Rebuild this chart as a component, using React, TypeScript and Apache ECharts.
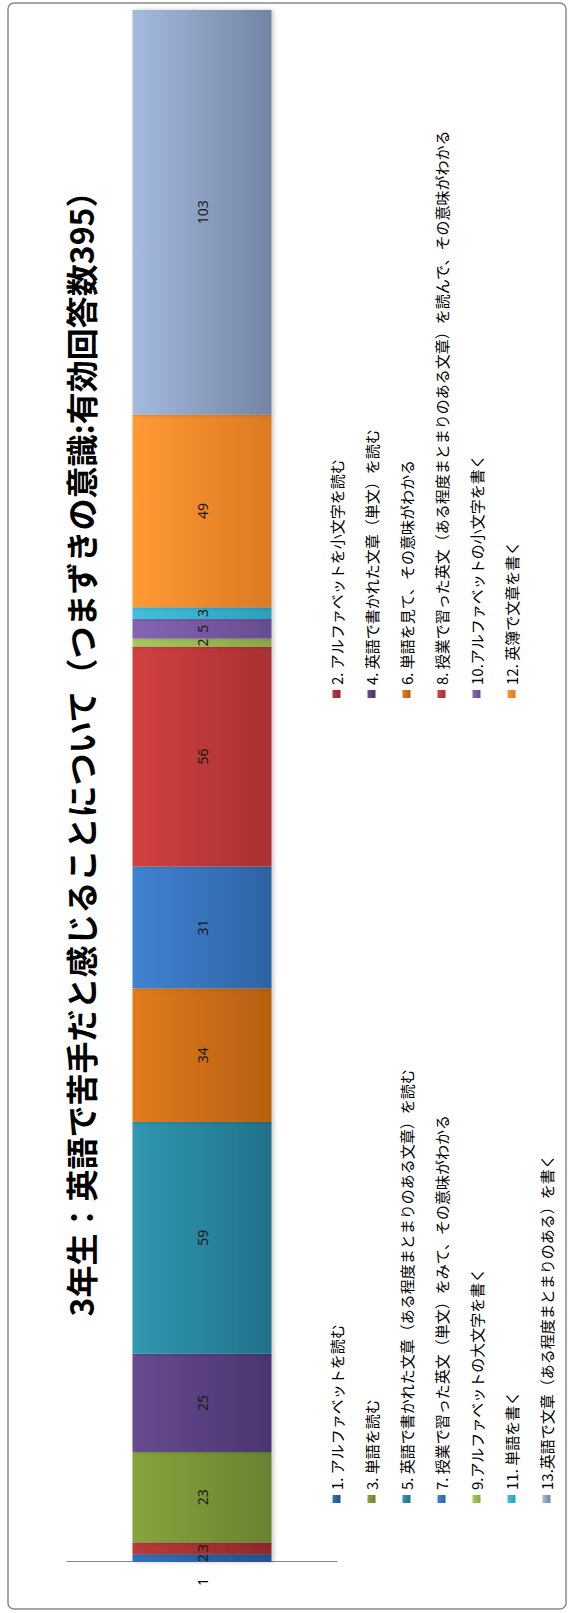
import React, { useEffect, useRef } from "react";
import * as echarts from "echarts";

const titleText = "3年生：英語で苦手だと感じることについて（つまずきの意識:有効回答数395）";
const categories = ["1"];
const seriesNames = [
  "1. アルファベットを読む",
  "2. アルファベットを小文字を読む",
  "3. 単語を読む",
  "4. 英語で書かれた文章（単文）を読む",
  "5. 英語で書かれた文章（ある程度まとまりのある文章）を読む",
  "6. 単語を見て、その意味がわかる",
  "7. 授業で習った英文（単文）をみて、その意味がわかる",
  "8. 授業で習った英文（ある程度まとまりのある文章）を読んで、その意味がわかる",
  "9.アルファベットの大文字を書く",
  "10.アルファベットの小文字を書く",
  "11. 単語を書く",
  "12. 英簿で文章を書く",
  "13.英語で文章（ある程度まとまりのある）を書く",
];
const seriesValues = [2, 3, 23, 25, 59, 34, 31, 56, 2, 5, 3, 49, 103];
const totalAnswers = 395;

const colorsLight = [
  "#3470B8", "#BA3B38", "#86A43E", "#674B8F", "#3098B0", "#E27B1F",
  "#4183D2", "#D24141", "#A8C95C", "#8664B2", "#40C0DD", "#FF9A35", "#A4BADF",
];
const colorsDark = [
  "#24528C", "#8E2A28", "#68832F", "#4A356E", "#22718A", "#B65F10",
  "#2E63A5", "#A83030", "#88A944", "#684C90", "#2C9FBC", "#DC7922", "#7384A3",
];

const W = 1613;
const H = 569;

export default function App() {
  const ref = useRef<HTMLDivElement>(null);
  useEffect(() => {
    if (!ref.current) return;
    const chart = echarts.init(ref.current, undefined, { renderer: "svg" });
    const series = seriesNames.map((name, i) => ({
      name,
      type: "bar",
      stack: "total",
      barWidth: "51.5%",
      data: [seriesValues[i]],
      itemStyle: {
        color: new echarts.graphic.LinearGradient(0, 0, 0, 1, [
          { offset: 0, color: colorsLight[i] },
          { offset: 1, color: colorsDark[i] },
        ]),
        shadowColor: "rgba(0,0,0,0.22)",
        shadowBlur: 4,
        shadowOffsetY: 2,
      },
      label: {
        show: true,
        position: "inside",
        color: "#1a1a1a",
        fontSize: 14,
        fontFamily: "Noto Sans",
      },
    }));
    const legendCommon = {
      orient: "vertical",
      top: 324,
      itemGap: 20,
      itemWidth: 8,
      itemHeight: 8,
      icon: "rect",
      selectedMode: false,
      textStyle: {
        fontSize: 15,
        lineHeight: 15,
        color: "#000",
        fontFamily: "Noto Sans CJK JP",
      },
    };
    chart.setOption({
      animation: false,
      backgroundColor: "#ffffff",
      grid: { left: 51, right: 10, top: 67, bottom: 232, containLabel: false },
      xAxis: {
        type: "value",
        min: 0,
        max: totalAnswers,
        show: false,
      },
      yAxis: {
        type: "category",
        data: categories,
        axisLine: { show: true, lineStyle: { color: "#868686", width: 1 } },
        axisTick: { show: false },
        axisLabel: { fontSize: 14, color: "#000", margin: 16, fontFamily: "Noto Sans" },
        splitLine: { show: false },
      },
      legend: [
        { ...legendCommon, left: 105, data: seriesNames.filter((_, i) => i % 2 === 0) },
        { ...legendCommon, left: 910, data: seriesNames.filter((_, i) => i % 2 === 1) },
      ],
      graphic: [
        {
          type: "rect",
          shape: { x: 4, y: 8, width: 1606, height: 558, r: 6 },
          style: { fill: "none", stroke: "#8a8a8a", lineWidth: 1.5 },
          silent: true,
          z: -1,
        },
        {
          type: "text",
          x: 867,
          y: 80,
          style: {
            text: titleText,
            align: "center",
            verticalAlign: "middle",
            fontSize: 32,
            fontWeight: "bold",
            fontFamily: "Noto Sans CJK JP",
            fill: "#000",
          },
        },
      ],
      series,
    });
    return () => chart.dispose();
  }, []);

  return (
    <div style={{ position: "absolute", left: 0, top: 0, width: H, height: W, overflow: "hidden" }}>
      <div
        style={{
          position: "absolute",
          left: 0,
          top: 0,
          width: W,
          height: H,
          transformOrigin: "0 0",
          transform: `translate(0px, ${W}px) rotate(-90deg)`,
        }}
      >
        <div ref={ref} style={{ width: W, height: H }} />
      </div>
    </div>
  );
}
